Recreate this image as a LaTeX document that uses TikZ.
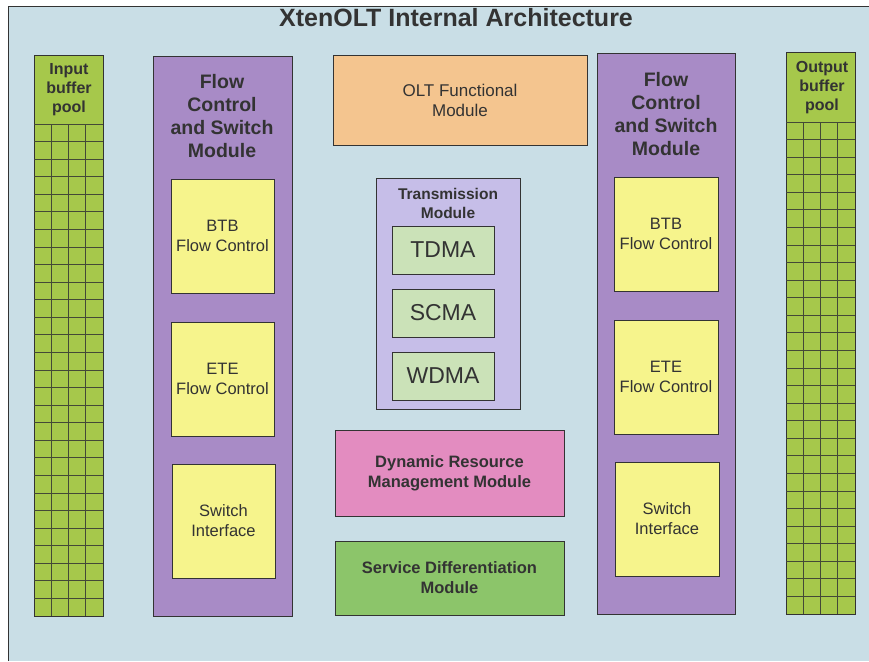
\documentclass[tikz,border=0pt]{standalone}
\usepackage{fontspec}
\setmainfont{Liberation Sans}
\definecolor{bgblue}{HTML}{C9DEE6}
\definecolor{poolgreen}{HTML}{A6C84B}
\definecolor{fsmpurple}{HTML}{A88BC6}
\definecolor{fcyellow}{HTML}{F6F48C}
\definecolor{oltorange}{HTML}{F4C58F}
\definecolor{txlav}{HTML}{C6BEE8}
\definecolor{accgreen}{HTML}{CBE2B8}
\definecolor{drmpink}{HTML}{E38CC0}
\definecolor{sdgreen}{HTML}{8CC56A}
\definecolor{inkgray}{HTML}{333333}
\begin{document}
\begin{tikzpicture}[x=1pt,y=-1pt,
  box/.style={draw=inkgray,line width=0.9pt,inner sep=0pt,align=center,text=inkgray},
  lbl/.style={inner sep=0pt,align=center,text=inkgray},
  gridline/.style={draw=inkgray!85!poolgreen,line width=0.8pt}]
\useasboundingbox (0,0) rectangle (869,661);
% background panel
\fill[bgblue] (8,6) rectangle (869,661);
\draw[inkgray,line width=0.8pt] (8,661) -- (8,6) -- (869,6);

\node[lbl,font=\bfseries\fontsize{25}{28}\selectfont] (title) at (456,18) {XtenOLT Internal Architecture};

% input buffer pool
\node[box,fill=poolgreen,minimum width=69pt,minimum height=561pt,anchor=north west] (inpool) at (34,55) {};
\node[lbl,font=\bfseries\fontsize{16}{19}\selectfont] (inlbl) at (69,90) {Input\\buffer\\pool};
\foreach \i in {0,...,27} {\draw[gridline] (34,124+\i*17.57) -- (103,124+\i*17.57);}
\foreach \j in {1,2,3} {\draw[gridline] (34+\j*17.25,124) -- (34+\j*17.25,616);}

% output buffer pool
\node[box,fill=poolgreen,minimum width=69pt,minimum height=562pt,anchor=north west] (outpool) at (786,52) {};
\node[lbl,font=\bfseries\fontsize{16}{19}\selectfont] (outlbl) at (822,88) {Output\\buffer\\pool};
\foreach \i in {0,...,27} {\draw[gridline] (786,122+\i*17.57) -- (855,122+\i*17.57);}
\foreach \j in {1,2,3} {\draw[gridline] (786+\j*17.25,122) -- (786+\j*17.25,614);}

% left flow control and switch module
\node[box,fill=fsmpurple,minimum width=139pt,minimum height=560pt,anchor=north west] (lfsm) at (153,56) {};
\node[lbl,font=\bfseries\fontsize{19.5}{23}\selectfont] (lfsmlbl) at (222,116) {Flow\\Control\\and Switch\\Module};
\node[box,fill=fcyellow,minimum width=103pt,minimum height=114pt,font=\fontsize{16.5}{20}\selectfont] (lbtb) at (222.5,236) {BTB\\Flow Control};
\node[box,fill=fcyellow,minimum width=103pt,minimum height=114pt,font=\fontsize{16.5}{20}\selectfont] (lete) at (222.5,379) {ETE\\Flow Control};
\node[box,fill=fcyellow,minimum width=103pt,minimum height=114pt,font=\fontsize{16.5}{20}\selectfont] (lsw) at (223.5,521) {Switch\\Interface};

% right flow control and switch module
\node[box,fill=fsmpurple,minimum width=138pt,minimum height=561pt,anchor=north west] (rfsm) at (597,53) {};
\node[lbl,font=\bfseries\fontsize{19.5}{23}\selectfont] (rfsmlbl) at (666,114) {Flow\\Control\\and Switch\\Module};
\node[box,fill=fcyellow,minimum width=104pt,minimum height=114pt,font=\fontsize{16.5}{20}\selectfont] (rbtb) at (666,234) {BTB\\Flow Control};
\node[box,fill=fcyellow,minimum width=104pt,minimum height=114pt,font=\fontsize{16.5}{20}\selectfont] (rete) at (666,377) {ETE\\Flow Control};
\node[box,fill=fcyellow,minimum width=104pt,minimum height=114pt,font=\fontsize{16.5}{20}\selectfont] (rsw) at (667,519) {Switch\\Interface};

% central modules
\node[box,fill=oltorange,minimum width=254pt,minimum height=90pt,font=\fontsize{17}{20}\selectfont] (olt) at (460,100) {OLT Functional\\Module};

\node[box,fill=txlav,minimum width=144pt,minimum height=231pt,anchor=north west] (tx) at (376,178) {};
\node[lbl,font=\bfseries\fontsize{15.5}{19}\selectfont] (txlbl) at (448,203) {Transmission\\Module};
\node[box,fill=accgreen,minimum width=102pt,minimum height=48pt,font=\fontsize{23}{26}\selectfont] (tdma) at (443,250) {TDMA};
\node[box,fill=accgreen,minimum width=102pt,minimum height=48pt,font=\fontsize{23}{26}\selectfont] (scma) at (443,313) {SCMA};
\node[box,fill=accgreen,minimum width=102pt,minimum height=48pt,font=\fontsize{23}{26}\selectfont] (wdma) at (443,376) {WDMA};

\node[box,fill=drmpink,minimum width=229pt,minimum height=86pt,font=\bfseries\fontsize{16.5}{20}\selectfont] (drm) at (449.5,473) {Dynamic Resource\\Management Module};
\node[box,fill=sdgreen,minimum width=229pt,minimum height=74pt,font=\bfseries\fontsize{16.5}{20}\selectfont] (sdm) at (449.5,578) {Service Differentiation\\Module};
\end{tikzpicture}
\end{document}
